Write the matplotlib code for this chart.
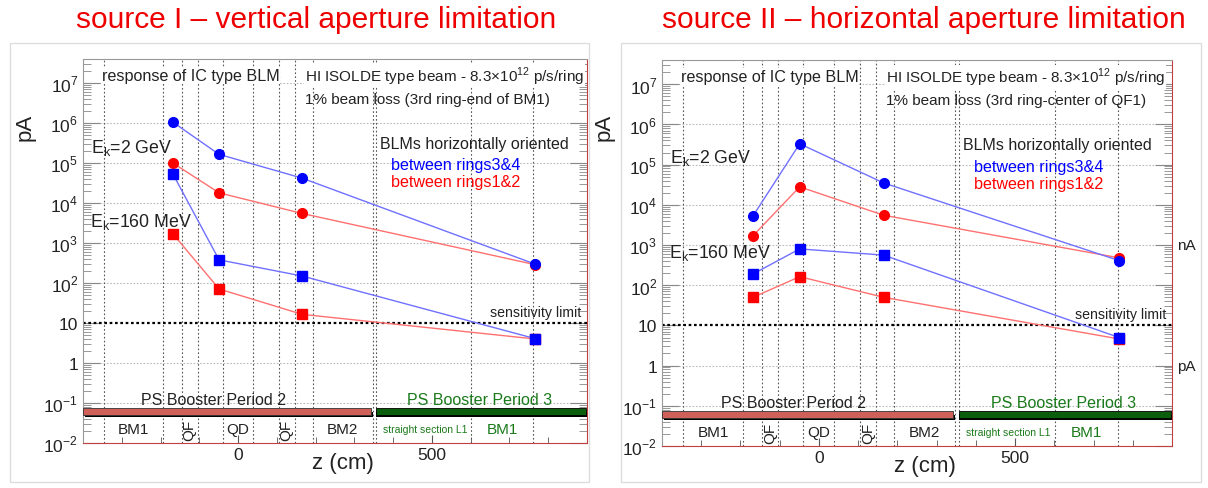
import matplotlib
matplotlib.use("Agg")
import matplotlib.pyplot as plt
from matplotlib.patches import Rectangle

plt.rcParams['font.family'] = ['Liberation Sans', 'DejaVu Sans']
plt.rcParams['mathtext.fontset'] = 'custom'
plt.rcParams['mathtext.rm'] = 'Liberation Sans'

# z positions of the BLMs (cm)
z_blm = [-168, -49, 165, 765]

# source I - vertical aperture limitation
s1_blue_2gev = [1.05e6, 1.65e5, 4.2e4, 3.0e2]
s1_red_2gev = [1.0e5, 1.8e4, 5.5e3, 2.9e2]
s1_blue_160 = [5.3e4, 3.8e2, 1.5e2, 4.1]
s1_red_160 = [1.7e3, 71, 16.5, 4.0]

# source II - horizontal aperture limitation
s2_blue_2gev = [5.3e3, 3.3e5, 3.5e4, 4.1e2]
s2_red_2gev = [1.7e3, 2.8e4, 5.5e3, 4.8e2]
s2_blue_160 = [190, 800, 560, 5.0]
s2_red_160 = [50, 163, 50, 4.6]

# element boundaries along the lattice (cm)
boundaries = [-347, -193, -145, -104, -40, 38, 105, 146, 192, 347, 357, 601, 762]
elements = ["BM1", "QF", "QD", "QF", "BM2"]
element_z = [-270, -125, 0, 125, 270]

ytick_vals = [1e-2, 1e-1, 1, 10, 1e2, 1e3, 1e4, 1e5, 1e6, 1e7]
ytick_labels = ["10$^{\\mathregular{-2}}$", "10$^{\\mathregular{-1}}$", "1", "10",
                "10$^{\\mathregular{2}}$", "10$^{\\mathregular{3}}$", "10$^{\\mathregular{4}}$",
                "10$^{\\mathregular{5}}$", "10$^{\\mathregular{6}}$", "10$^{\\mathregular{7}}$"]

BLUE = "#0000ff"
RED = "#ff0000"
GREEN = "#1a7a1a"
INK = "#222222"


def draw_panel(ax, blue2, red2, blue160, red160, loss_text, ek2_y, ek160_y):
    ax.set_yscale("log")
    ax.set_xlim(-400, 900)
    ax.set_ylim(1e-2, 4e7)

    # grid: decades horizontally, element boundaries vertically
    for v in ytick_vals[1:]:
        if v == 10:
            continue
        ax.axhline(v, color="#bbbbbb", ls=(0, (1.5, 1.5)), lw=0.8, zorder=1)
    for b in boundaries:
        ax.axvline(b, color="#555555", ls=(0, (1.5, 2)), lw=0.8, zorder=1)
    ax.axhline(10, color="black", ls=(0, (1.2, 1.2)), lw=1.6, zorder=2)

    # data
    ax.plot(z_blm, red2, color="#ff7070", lw=1, marker="o", ms=7,
            mfc=RED, mec=RED, zorder=5)
    ax.plot(z_blm, blue2, color="#7070ff", lw=1, marker="o", ms=7,
            mfc=BLUE, mec=BLUE, zorder=6)
    ax.plot(z_blm, red160, color="#ff7070", lw=1, marker="s", ms=6.5,
            mfc=RED, mec=RED, zorder=5)
    ax.plot(z_blm, blue160, color="#7070ff", lw=1, marker="s", ms=6.5,
            mfc=BLUE, mec=BLUE, zorder=6)

    # booster period bars
    ax.fill_between([-395, 347], 0.045, 0.06, color="black", zorder=3, lw=0)
    ax.fill_between([-400, 343], 0.051, 0.074, color="#d0605a", ec="#333333",
                    lw=0.6, zorder=4)
    ax.fill_between([357, 900], 0.045, 0.06, color="black", zorder=3, lw=0)
    ax.fill_between([357, 897], 0.051, 0.074, color="#0b5e0b", ec="black",
                    lw=0.6, zorder=4)
    ax.text(-64, 0.12, "PS Booster Period 2", ha="center", va="center",
            fontsize=11.5, color=INK, zorder=7)
    ax.text(624, 0.12, "PS Booster Period 3", ha="center", va="center",
            fontsize=11.5, color=GREEN, zorder=7)

    for name, z in zip(elements, element_z):
        rot = 90 if name == "QF" else 0
        ax.text(z, 0.022, name, ha="center", va="center", fontsize=11,
                rotation=rot, color=INK)
    ax.text(483, 0.022, "straight section L1", ha="center", va="center",
            fontsize=7.5, color=GREEN)
    ax.text(683, 0.022, "BM1", ha="center", va="center", fontsize=11,
            color=GREEN)

    # annotations
    t = ax.transAxes
    ax.text(0.037, 0.957, "response of IC type BLM", transform=t, fontsize=11.6,
            va="center", color=INK,
            bbox=dict(fc="white", ec="none", pad=0.5), zorder=7)
    ax.text(0.44, 0.957, "HI ISOLDE type beam - 8.3×10$^{\\mathregular{12}}$ p/s/ring",
            transform=t, fontsize=11, va="center", color=INK,
            bbox=dict(fc="white", ec="none", pad=0.5), zorder=7)
    ax.text(0.44, 0.897, loss_text, transform=t, fontsize=11, va="center",
            color=INK)
    ax.text(0.59, 0.781, "BLMs horizontally oriented", transform=t,
            fontsize=11.5, va="center", color=INK)
    ax.text(0.611, 0.724, "between rings3&4", transform=t, fontsize=11.6,
            va="center", color=BLUE)
    ax.text(0.611, 0.680, "between rings1&2", transform=t, fontsize=11.6,
            va="center", color=RED)
    ax.text(0.016, ek2_y, "E$_{\\mathregular{k}}$=2 GeV", transform=t,
            fontsize=12.8, va="center", color=INK)
    ax.text(0.014, ek160_y, "E$_{\\mathregular{k}}$=160 MeV", transform=t,
            fontsize=12.8, va="center", color=INK)
    ax.text(0.989, 0.341, "sensitivity limit", transform=t, fontsize=10.2,
            ha="right", va="center", color=INK)

    # axes and ticks
    ax.set_yticks(ytick_vals)
    ax.set_yticklabels(ytick_labels)
    ax.set_xticks([0, 500])
    ax.set_xticklabels(["0", "500"])
    ax.set_xticks(range(-300, 900, 100), minor=True)
    ax.tick_params(axis="y", which="both", direction="in", left=True,
                   right=True, color="#888888", labelsize=12.5,
                   labelcolor=INK)
    ax.tick_params(axis="y", which="major", length=12, width=0.8)
    ax.tick_params(axis="y", which="minor", length=6, width=0.6)
    ax.tick_params(axis="x", which="both", direction="in", top=False,
                   color="#555555", labelsize=12.5, labelcolor=INK, pad=3)
    ax.tick_params(axis="x", which="major", length=6)
    ax.tick_params(axis="x", which="minor", length=4)
    ax.spines["top"].set_color("#999999")
    ax.spines["left"].set_color("#999999")
    ax.spines["right"].set_color("#c04040")
    ax.spines["bottom"].set_color("#c04040")
    ax.text(0.516, -0.05, "z (cm)", transform=t, fontsize=16, ha="center",
            va="center", color=INK)


fig = plt.figure(figsize=(12.08, 4.89), dpi=100)

# light frames around each panel
fig.patches.append(Rectangle((10 / 1208, 1 - 483 / 489), 579 / 1208, 439 / 489,
                             transform=fig.transFigure, fill=False,
                             ec="#dddddd", lw=1))
fig.patches.append(Rectangle((621 / 1208, 1 - 483 / 489), 580 / 1208, 439 / 489,
                             transform=fig.transFigure, fill=False,
                             ec="#dddddd", lw=1))

ax1 = fig.add_axes([83 / 1208, 1 - 444 / 489, 504 / 1208, 384 / 489])
draw_panel(ax1, s1_blue_2gev, s1_red_2gev, s1_blue_160, s1_red_160,
           "1% beam loss (3rd ring-end of BM1)", 0.771, 0.579)

ax2 = fig.add_axes([662 / 1208, 1 - 447 / 489, 510 / 1208, 386 / 489])
draw_panel(ax2, s2_blue_2gev, s2_red_2gev, s2_blue_160, s2_red_160,
           "1% beam loss (3rd ring-center of QF1)", 0.748, 0.502)
ax2.annotate("nA", xy=(1.01, 1e3), xycoords=("axes fraction", "data"),
             fontsize=11, va="center", ha="left", color=INK)
ax2.annotate("pA", xy=(1.01, 1), xycoords=("axes fraction", "data"),
             fontsize=11, va="center", ha="left", color=INK)

fig.text(25 / 1208, 1 - 127 / 489, "pA", rotation=90, fontsize=16,
         ha="center", va="center", color=INK)
fig.text(604 / 1208, 1 - 127 / 489, "pA", rotation=90, fontsize=16,
         ha="center", va="center", color=INK)

fig.text(316 / 1208, 1 - 20 / 489, "source I – vertical aperture limitation",
         fontsize=21.5, color="#ee0000", ha="center", va="center")
fig.text(924 / 1208, 1 - 20 / 489, "source II – horizontal aperture limitation",
         fontsize=21.5, color="#ee0000", ha="center", va="center")

fig.savefig("out.png", dpi=100)
